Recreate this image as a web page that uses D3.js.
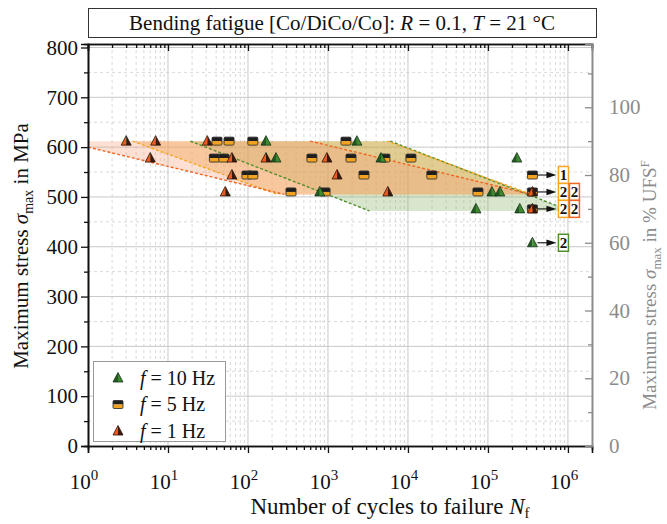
<!DOCTYPE html>
<html>
<head>
<meta charset="utf-8">
<script src="https://cdn.jsdelivr.net/npm/d3@7"></script>
<style>
  html, body { margin: 0; padding: 0; background: #fff; }
  svg { display: block; font-family: "Liberation Serif", "Times New Roman", serif; }
</style>
</head>
<body>
<svg id="chart" width="667" height="524"></svg>
<script>
// Ultimate flexural strength used for the secondary (percent) axis
const UFS = 680;

// Failures: [cycles to failure, max stress in MPa]
const freq1Hz = [[3, 612], [7, 612], [31, 612], [6, 578], [63, 578], [168, 578], [970, 578],
  [63, 544], [1300, 544], [52, 510], [5600, 510]];
const freq5Hz = [[41, 612], [58, 612], [115, 612], [1680, 612], [38, 578], [50, 578], [630, 578],
  [1940, 578], [5150, 578], [10900, 578], [97, 544], [115, 544], [2820, 544], [19900, 544],
  [345, 510], [920, 510], [75000, 510]];
const freq10Hz = [[168, 612], [2300, 612], [224, 578], [4600, 578], [230000, 578], [790, 510],
  [112000, 510], [141000, 510], [70800, 476], [250000, 476]];

// Run-outs: [max stress in MPa, number of specimens]
const runoutCycles = 3.6e5;
const runout1Hz = [[510, 2], [476, 2]];
const runout5Hz = [[544, 1], [510, 2], [476, 2]];
const runout10Hz = [[408, 2]];

// Scatter band limits: [cycles, stress] at each end of the dashed lines
const bandTop = 612;
const band1HzLower = [[1, 600], [285, 505]];
const band1HzUpper = [[600, 612], [3.5e5, 505]];
const band5HzLower = [[3.6, 612], [235, 505]];
const band5HzUpper = [[5500, 612], [3.5e5, 505]];
const band10HzLower = [[19, 612], [3300, 472]];
const band10HzUpper = [[6000, 612], [1.07e6, 472]];

// Axis ticks
const xDecades = [0, 1, 2, 3, 4, 5, 6];
const yTicks = [0, 100, 200, 300, 400, 500, 600, 700, 800];
const pctTicks = [0, 20, 40, 60, 80, 100];

const legendLabels = ["10 Hz", "5 Hz", "1 Hz"];

const C = {
  green: "#3c8a2e", greenDark: "#16331a", greenLine: "#4f8f2c",
  orange: "#f2a21e", orangeLine: "#f5a623",
  red: "#ef5a1f", redDark: "#3a1a0e", redLine: "#f26522",
  grid: "#c9c9c9", gridMinor: "#d9d9d9", gray: "#8c8c8c"
};

const svg = d3.select("#chart");
const L = 88, R = 592, T = 44, B = 446;

const x = d3.scaleLog().domain([1, 2e6]).range([L, R]);
const y = d3.scaleLinear().domain([0, 807]).range([B, T]);
const yPct = d3.scaleLinear().domain([0, 807 / UFS * 100]).range([B, T]);

// Title box
svg.append("rect").attr("x", 88.5).attr("y", 8.5).attr("width", 508).attr("height", 29)
  .attr("fill", "#fff").attr("stroke", "#333").attr("stroke-width", 1);
const title = svg.append("text").attr("x", 342).attr("y", 30).attr("text-anchor", "middle")
  .attr("font-size", 21).attr("fill", "#111");
title.append("tspan").text("Bending fatigue [Co/DiCo/Co]: ");
title.append("tspan").attr("font-style", "italic").text("R");
title.append("tspan").text(" = 0.1, ");
title.append("tspan").attr("font-style", "italic").text("T");
title.append("tspan").text(" = 21 °C");

// Grid
const minorX = [];
for (let d = 0; d <= 6; d++) for (let m = 2; m <= 9; m++) {
  const v = m * Math.pow(10, d);
  if (v < 2e6) minorX.push(v);
}
const grid = svg.append("g");
grid.selectAll(".gxm").data(minorX).join("line")
  .attr("x1", d => x(d)).attr("x2", d => x(d)).attr("y1", T).attr("y2", B)
  .attr("stroke", C.gridMinor).attr("stroke-dasharray", "3,3");
grid.selectAll(".gym").data(d3.range(50, 800, 100)).join("line")
  .attr("x1", L).attr("x2", R).attr("y1", d => y(d)).attr("y2", d => y(d))
  .attr("stroke", C.gridMinor).attr("stroke-dasharray", "3,3");
grid.selectAll(".gx").data(xDecades.slice(1)).join("line")
  .attr("x1", d => x(Math.pow(10, d))).attr("x2", d => x(Math.pow(10, d))).attr("y1", T).attr("y2", B)
  .attr("stroke", C.grid);
grid.selectAll(".gy").data(yTicks.slice(1)).join("line")
  .attr("x1", L).attr("x2", R).attr("y1", d => y(d)).attr("y2", d => y(d))
  .attr("stroke", C.grid);

// Scatter bands
svg.append("clipPath").attr("id", "plotClip").append("rect")
  .attr("x", L).attr("y", T).attr("width", R - L).attr("height", B - T);
const bands = svg.append("g").attr("clip-path", "url(#plotClip)");
const pt = d => [x(d[0]), y(d[1])];
const bandDefs = [
  { lower: band10HzLower, upper: band10HzUpper, fill: "rgba(130,178,100,0.32)", line: C.greenLine },
  { lower: band5HzLower, upper: band5HzUpper, fill: "rgba(240,165,55,0.4)", line: C.orangeLine },
  { lower: band1HzLower, upper: band1HzUpper, fill: "rgba(250,160,120,0.32)", line: C.redLine }
];
bandDefs.forEach(b => {
  const poly = [[b.lower[0][0], bandTop], b.upper[0], b.upper[1], b.lower[1], b.lower[0]].map(pt);
  bands.append("polygon").attr("points", poly.map(p => p.join(",")).join(" ")).attr("fill", b.fill);
});
bandDefs.forEach(b => {
  [b.lower, b.upper].forEach(seg => {
    bands.append("line").attr("x1", x(seg[0][0])).attr("y1", y(seg[0][1]))
      .attr("x2", x(seg[1][0])).attr("y2", y(seg[1][1]))
      .attr("stroke", b.line).attr("stroke-width", 1.4).attr("stroke-dasharray", "3,2");
  });
});

// Marker drawing
function triangle(g, cx, cy, left, right, stroke) {
  const h = 5.5, w = 5;
  g.append("path").attr("d", `M${cx},${cy - h}L${cx - w},${cy + 4}L${cx},${cy + 4}Z`).attr("fill", left);
  g.append("path").attr("d", `M${cx},${cy - h}L${cx + w},${cy + 4}L${cx},${cy + 4}Z`).attr("fill", right);
  g.append("path").attr("d", `M${cx},${cy - h}L${cx + w},${cy + 4}L${cx - w},${cy + 4}Z`)
    .attr("fill", "none").attr("stroke", stroke).attr("stroke-width", 0.8);
}
function square(g, cx, cy) {
  g.append("rect").attr("x", cx - 5).attr("y", cy - 4).attr("width", 10).attr("height", 4).attr("fill", "#1e1e1e");
  g.append("rect").attr("x", cx - 5).attr("y", cy).attr("width", 10).attr("height", 4).attr("fill", C.orange);
  g.append("rect").attr("x", cx - 5).attr("y", cy - 4).attr("width", 10).attr("height", 8).attr("rx", 1.2)
    .attr("fill", "none").attr("stroke", "#333").attr("stroke-width", 0.9);
}
const mark10 = (g, cx, cy) => triangle(g, cx, cy, "#1f5a1f", C.green, C.greenDark);
const mark5 = (g, cx, cy) => square(g, cx, cy);
const mark1 = (g, cx, cy) => triangle(g, cx, cy, C.red, C.redDark, "#2a1208");

const marks = svg.append("g");
freq5Hz.forEach(d => mark5(marks, x(d[0]), y(d[1])));
freq10Hz.forEach(d => mark10(marks, x(d[0]), y(d[1])));
freq1Hz.forEach(d => mark1(marks, x(d[0]), y(d[1])));

// Run-outs with arrows and specimen counts
const rx = x(runoutCycles);
runout5Hz.forEach(d => mark5(marks, rx, y(d[0])));
runout10Hz.forEach(d => mark10(marks, rx, y(d[0])));
runout1Hz.forEach(d => mark1(marks, rx, y(d[0])));
const runLevels = Array.from(new Set([...runout5Hz, ...runout10Hz, ...runout1Hz].map(d => d[0])));
runLevels.forEach(s => {
  const yy = y(s);
  marks.append("line").attr("x1", rx + 5).attr("x2", rx + 17).attr("y1", yy).attr("y2", yy)
    .attr("stroke", "#222").attr("stroke-width", 1.2);
  marks.append("path").attr("d", `M${rx + 24},${yy}L${rx + 14},${yy - 3.2}L${rx + 14},${yy + 3.2}Z`).attr("fill", "#111");
});
function countBox(s, n, col, color) {
  const cx = rx + 31 + col * 11, yy = y(s);
  marks.append("rect").attr("x", cx - 5).attr("y", yy - 8.5).attr("width", 10).attr("height", 17)
    .attr("fill", "#fff").attr("stroke", color).attr("stroke-width", 1.5);
  marks.append("text").attr("x", cx).attr("y", yy + 5).attr("text-anchor", "middle")
    .attr("font-size", 15).attr("font-weight", "bold").attr("fill", "#111").text(n);
}
runout5Hz.forEach(d => countBox(d[0], d[1], 0, C.orangeLine));
runout10Hz.forEach(d => countBox(d[0], d[1], 0, C.greenLine));
runout1Hz.forEach(d => countBox(d[0], d[1], 1, C.redLine));

// Axes
const axes = svg.append("g");
// bottom
axes.append("g").attr("transform", `translate(0,${B})`)
  .call(d3.axisBottom(x).tickValues(minorX).tickSize(4).tickFormat(""));
axes.append("g").attr("transform", `translate(0,${B})`)
  .call(d3.axisBottom(x).tickValues(xDecades.map(d => Math.pow(10, d))).tickSize(7).tickFormat(""));
// top (inward ticks)
axes.append("g").attr("transform", `translate(0,${T})`)
  .call(d3.axisTop(x).tickValues(minorX).tickSize(-4).tickFormat(""));
axes.append("g").attr("transform", `translate(0,${T})`)
  .call(d3.axisTop(x).tickValues(xDecades.map(d => Math.pow(10, d))).tickSize(-7).tickFormat(""));
// left
axes.append("g").attr("transform", `translate(${L},0)`)
  .call(d3.axisLeft(y).tickValues(d3.range(50, 800, 100)).tickSize(4).tickFormat(""));
const leftAx = axes.append("g").attr("transform", `translate(${L},0)`)
  .call(d3.axisLeft(y).tickValues(yTicks).tickSize(7).tickPadding(3));
leftAx.selectAll("text").attr("font-size", 21).attr("font-family", "Liberation Serif").attr("fill", "#111");
axes.selectAll(".domain, .tick line").attr("stroke", "#111").attr("stroke-width", 1.3);
axes.selectAll(".domain").attr("stroke-width", 1.6);

// right (percent, gray, inward ticks)
const right = svg.append("g").attr("transform", `translate(${R},0)`)
  .call(d3.axisRight(yPct).tickValues(d3.range(10, 111, 20)).tickSize(-4).tickFormat(""));
const rightMaj = svg.append("g").attr("transform", `translate(${R},0)`)
  .call(d3.axisRight(yPct).tickValues(pctTicks).tickSize(-7).tickPadding(17));
rightMaj.selectAll("text").attr("font-size", 21).attr("font-family", "Liberation Serif").attr("fill", C.gray);
[right, rightMaj].forEach(g => {
  g.selectAll(".tick line").attr("stroke", C.gray).attr("stroke-width", 1.3);
  g.select(".domain").attr("stroke", C.gray).attr("stroke-width", 1.6);
});

// x tick labels: 10^k
const xl = svg.append("g");
xDecades.forEach(k => {
  const t = xl.append("text").attr("x", x(Math.pow(10, k)) - 4).attr("y", B + 43)
    .attr("text-anchor", "middle").attr("font-size", 21).attr("fill", "#111");
  t.append("tspan").text("10");
  t.append("tspan").attr("dy", -9).attr("font-size", 15).text(k);
});

// Axis titles
const xt = svg.append("text").attr("x", 390).attr("y", 514).attr("text-anchor", "middle")
  .attr("font-size", 23).attr("fill", "#111");
xt.append("tspan").text("Number of cycles to failure ");
xt.append("tspan").attr("font-style", "italic").text("N");
xt.append("tspan").attr("dy", 4).attr("font-size", 15).text("f");

const yt = svg.append("text").attr("transform", "translate(28,246) rotate(-90)")
  .attr("text-anchor", "middle").attr("font-size", 21).attr("fill", "#111");
yt.append("tspan").text("Maximum stress ");
yt.append("tspan").attr("font-style", "italic").text("σ");
yt.append("tspan").attr("dy", 5).attr("font-size", 14).text("max");
yt.append("tspan").attr("dy", -5).text(" in MPa");

const yr = svg.append("text").attr("transform", "translate(656,285) rotate(-90)")
  .attr("text-anchor", "middle").attr("font-size", 19).attr("fill", C.gray);
yr.append("tspan").text("Maximum stress ");
yr.append("tspan").attr("font-style", "italic").text("σ");
yr.append("tspan").attr("dy", 5).attr("font-size", 13).text("max");
yr.append("tspan").attr("dy", -5).text(" in % UFS");
yr.append("tspan").attr("dy", -7).attr("font-size", 13).text("F");

// Legend
const lg = svg.append("g");
lg.append("rect").attr("x", 93.5).attr("y", 361.5).attr("width", 132).attr("height", 80)
  .attr("fill", "#fff").attr("stroke", "#999").attr("stroke-width", 1);
const legendMarks = [mark10, mark5, mark1];
legendLabels.forEach((lab, i) => {
  const yy = 378 + i * 26.5;
  legendMarks[i](lg, 118, yy);
  const t = lg.append("text").attr("x", 140).attr("y", yy + 6.5).attr("font-size", 20).attr("fill", "#111");
  t.append("tspan").attr("font-style", "italic").text("f");
  t.append("tspan").text(" = " + lab);
});
</script>
</body>
</html>
